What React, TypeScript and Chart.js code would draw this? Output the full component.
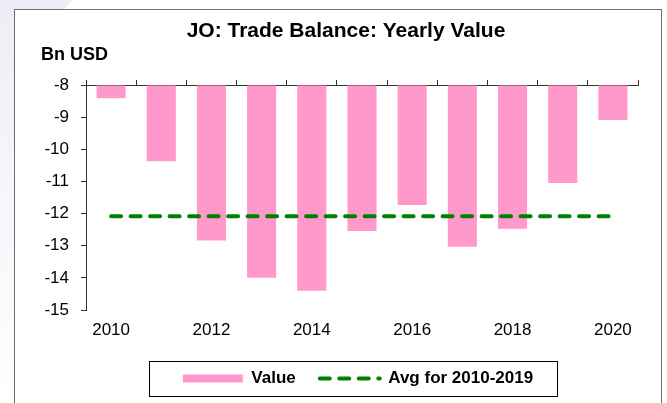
import React, { useEffect, useRef } from "react";
import { Chart, registerables } from "chart.js";

Chart.register(...registerables);

const years = ["2010", "2011", "2012", "2013", "2014", "2015", "2016", "2017", "2018", "2019", "2020"];
const tradeBalance = [-8.41, -10.37, -12.84, -14.0, -14.4, -12.54, -11.73, -13.03, -12.47, -11.05, -9.09];
const avg2010to2019 = [-12.08, -12.08, -12.08, -12.08, -12.08, -12.08, -12.08, -12.08, -12.08, -12.08, -12.08];
const yMin = -15;
const yMax = -8;
const yStep = 1;

const chartTitle = "JO: Trade Balance: Yearly Value";
const unitLabel = "Bn USD";
const seriesName = "Value";
const avgName = "Avg for 2010-2019";

const FONT = '"Liberation Sans", Arial, sans-serif';
const AXIS_COLOR = "#333333";
const AVG_DASH = [10, 9.5];
const LEGEND_SHIFT = 29;

const decorPlugin = {
  id: "decor",
  afterUpdate(chart: any) {
    const lg = chart.legend;
    if (!lg) return;
    lg.left += LEGEND_SHIFT;
    lg.right += LEGEND_SHIFT;
    (lg.legendHitBoxes || []).forEach((h: any) => {
      h.left += LEGEND_SHIFT;
    });
  },
  beforeDraw(chart: any) {
    const ctx = chart.ctx as CanvasRenderingContext2D;
    const W = chart.width;
    const H = chart.height;
    ctx.save();
    ctx.fillStyle = "#ffffff";
    ctx.fillRect(0, 0, W, H);
    ctx.fillStyle = "#ededf7";
    ctx.beginPath();
    ctx.moveTo(0, 0);
    ctx.lineTo(73, 0);
    ctx.lineTo(0, 73);
    ctx.closePath();
    ctx.fill();
    const g = ctx.createLinearGradient(0, 0, 0, H);
    g.addColorStop(0, "#ededf7");
    g.addColorStop(1, "#ffffff");
    ctx.fillStyle = g;
    ctx.fillRect(0, 0, 14, H);
    ctx.fillStyle = "#ffffff";
    ctx.fillRect(14, 9, 648, H);
    ctx.strokeStyle = "#6e6e6e";
    ctx.lineWidth = 1;
    ctx.strokeRect(14.5, 9.5, 647, H + 10);
    ctx.restore();
  },
  afterDraw(chart: any) {
    const ctx = chart.ctx as CanvasRenderingContext2D;
    ctx.save();
    ctx.fillStyle = "#000000";
    ctx.textBaseline = "middle";
    ctx.textAlign = "center";
    ctx.font = `bold 21px ${FONT}`;
    ctx.fillText(chartTitle, 346, 31);
    ctx.textAlign = "left";
    ctx.font = `bold 18px ${FONT}`;
    ctx.fillText(unitLabel, 41, 55);
    const hb = chart.legend && chart.legend.legendHitBoxes;
    if (hb && hb.length) {
      const first = hb[0];
      const last = hb[hb.length - 1];
      const left = Math.round(first.left - 34) + 0.5;
      const right = Math.round(last.left + last.width + 24) + 0.5;
      const top = Math.round(first.top - 9) + 0.5;
      const bottom = Math.round(first.top + first.height + 9) + 0.5;
      ctx.strokeStyle = "#000000";
      ctx.lineWidth = 1;
      ctx.strokeRect(left, top, right - left, bottom - top);
    }
    ctx.restore();
  },
};

export default function App() {
  const canvasRef = useRef<HTMLCanvasElement>(null);

  useEffect(() => {
    if (!canvasRef.current) return;
    Chart.defaults.font.family = FONT;
    const defaultGen = Chart.defaults.plugins.legend.labels.generateLabels;
    const chart = new Chart(canvasRef.current, {
      type: "bar",
      data: {
        labels: years,
        datasets: [
          {
            type: "bar",
            label: seriesName,
            data: tradeBalance,
            base: yMax,
            backgroundColor: "#ff99cc",
            borderWidth: 0,
            barPercentage: 0.58,
            categoryPercentage: 1,
            order: 1,
            pointStyle: "rect",
          } as any,
          {
            type: "line",
            label: avgName,
            data: avg2010to2019,
            borderColor: "#008000",
            backgroundColor: "#008000",
            borderWidth: 4,
            borderDash: AVG_DASH,
            borderCapStyle: "round",
            pointRadius: 0,
            pointHoverRadius: 0,
            fill: false,
            order: 0,
            pointStyle: "line",
          } as any,
        ],
      },
      options: {
        responsive: false,
        animation: false,
        devicePixelRatio: 1,
        layout: { padding: { left: 20, right: 29, top: 80, bottom: 6 } },
        plugins: {
          title: { display: false },
          tooltip: { enabled: false },
          legend: {
            display: true,
            position: "bottom",
            maxHeight: 59,
            labels: {
              usePointStyle: true,
              pointStyleWidth: 60,
              boxHeight: 8,
              padding: 24,
              color: "#000000",
              font: { size: 17, weight: "bold", family: FONT },
              sort: (a: any, b: any) => a.datasetIndex - b.datasetIndex,
              generateLabels: (c: any) => {
                const items = defaultGen(c);
                items.forEach((it: any) => {
                  const ds = c.data.datasets[it.datasetIndex];
                  if (ds.type === "line") {
                    it.lineDash = AVG_DASH;
                    it.lineCap = "round";
                    it.strokeStyle = "#008000";
                    it.lineWidth = 4;
                  }
                });
                return items;
              },
            },
          },
        },
        scales: {
          x: {
            type: "category",
            position: "bottom",
            offset: true,
            grid: { display: false, drawTicks: false },
            border: { display: false },
            ticks: {
              autoSkip: false,
              maxRotation: 0,
              minRotation: 0,
              padding: 10,
              color: "#000000",
              font: { size: 17, family: FONT },
              callback: (_v: any, i: number) => (i % 2 === 0 ? years[i] : ""),
            },
            afterFit: (scale: any) => {
              scale.height = 36;
            },
          },
          xTop: {
            type: "category",
            position: "top",
            labels: years,
            offset: true,
            grid: {
              display: true,
              offset: true,
              drawOnChartArea: false,
              drawTicks: true,
              tickLength: 5,
              color: AXIS_COLOR,
            },
            border: { display: true, color: AXIS_COLOR, width: 1 },
            ticks: { display: false },
          },
          y: {
            type: "linear",
            position: "left",
            min: yMin,
            max: yMax,
            grid: {
              display: true,
              drawOnChartArea: false,
              drawTicks: true,
              tickLength: 5,
              color: AXIS_COLOR,
            },
            border: { display: true, color: AXIS_COLOR, width: 1 },
            ticks: {
              stepSize: yStep,
              padding: 12,
              color: "#000000",
              font: { size: 17, family: FONT },
            },
            afterFit: (scale: any) => {
              scale.width = 66;
            },
          },
        },
      } as any,
      plugins: [decorPlugin],
    });
    return () => chart.destroy();
  }, []);

  return (
    <div style={{ position: "fixed", left: 0, top: 0, width: 667, height: 403 }}>
      <canvas ref={canvasRef} width={667} height={403} style={{ display: "block" }} />
    </div>
  );
}
